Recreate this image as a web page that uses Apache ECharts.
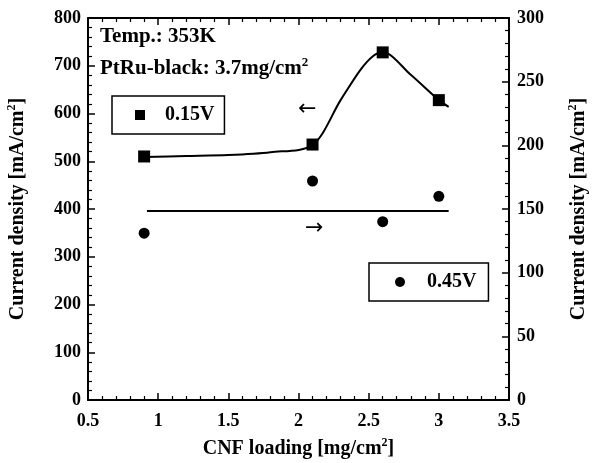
<!DOCTYPE html>
<html>
<head>
<meta charset="utf-8">
<script src="https://cdn.jsdelivr.net/npm/echarts@6/dist/echarts.min.js"></script>
<style>html,body{margin:0;padding:0;background:#fff}#c{width:595px;height:463px}</style>
</head>
<body>
<div id="c"></div>
<script>
// CNF loading [mg/cm2]
var cnfLoading = [0.9, 2.1, 2.6, 3.0];
// Current density at 0.15 V (left axis, mA/cm2)
var cd015 = [510, 535, 728, 628];
// Current density at 0.45 V (right axis, mA/cm2)
var cd045 = [131, 172, 140, 160];
// fitted curve through 0.15 V data
var fitX = [0.9, 1.2, 1.5, 1.8, 2.1, 2.3, 2.44, 2.53, 2.6, 2.8, 3.0, 3.07];
var fitY = [509, 511, 513, 519, 534, 628, 691, 720, 729, 681, 628, 614];
// average line for 0.45 V (right axis)
var avgX = [0.92, 3.07];
var avgY = [148.5, 148.5];
// axis ticks
var xTicks = {min: 0.5, max: 3.5, interval: 0.5};
var yLeftTicks = {min: 0, max: 800, interval: 100};
var yRightTicks = {min: 0, max: 300, interval: 50};

var FONT = 'Liberation Serif';
var chart = echarts.init(document.getElementById('c'), null, {renderer: 'canvas'});

function zip(a, b) { return a.map(function (v, i) { return [v, b[i]]; }); }

var axisCommon = {
  axisLine: {show: true, onZero: false, lineStyle: {color: '#000', width: 2}},
  axisTick: {show: true, inside: true, length: 7, lineStyle: {color: '#000', width: 1.5}},
  minorTick: {show: true, splitNumber: 5, length: 4, lineStyle: {color: '#000', width: 1.2}},
  splitLine: {show: false},
  axisLabel: {color: '#000', fontFamily: FONT, fontWeight: 'bold', fontSize: 18}
};
var nameStyle = {
  color: '#000', fontFamily: FONT, fontWeight: 'bold', fontSize: 20,
  rich: {sup: {fontFamily: FONT, fontWeight: 'bold', fontSize: 12, color: '#000', padding: [0, 0, 12, 0]}}
};

var option = {
  backgroundColor: '#fff',
  animation: false,
  grid: {left: 88, right: 86, top: 18, bottom: 63, containLabel: false, outerBoundsMode: 'none'},
  xAxis: [
    Object.assign({}, axisCommon, {
      type: 'value', position: 'bottom', min: xTicks.min, max: xTicks.max, interval: xTicks.interval,
      axisLabel: Object.assign({}, axisCommon.axisLabel, {margin: 12}),
      name: 'CNF loading [mg/cm{sup|2}]', nameLocation: 'middle', nameGap: 37, nameTextStyle: nameStyle
    }),
    Object.assign({}, axisCommon, {
      type: 'value', position: 'top', min: xTicks.min, max: xTicks.max, interval: xTicks.interval,
      axisLabel: {show: false}
    })
  ],
  yAxis: [
    Object.assign({}, axisCommon, {
      type: 'value', position: 'left', min: yLeftTicks.min, max: yLeftTicks.max, interval: yLeftTicks.interval,
      axisLabel: Object.assign({}, axisCommon.axisLabel, {margin: 7}),
      name: 'Current density [mA/cm{sup|2}]', nameLocation: 'middle', nameRotate: 90, nameGap: 58, nameTextStyle: nameStyle
    }),
    Object.assign({}, axisCommon, {
      type: 'value', position: 'right', min: yRightTicks.min, max: yRightTicks.max, interval: yRightTicks.interval,
      axisLabel: Object.assign({}, axisCommon.axisLabel, {margin: 8}),
      name: 'Current density [mA/cm{sup|2}]', nameLocation: 'middle', nameRotate: 90, nameGap: 58, nameTextStyle: nameStyle
    })
  ],
  legend: [
    {
      data: ['0.15V'], left: 112, top: 96, orient: 'horizontal',
      borderColor: '#000', borderWidth: 1.5, borderRadius: 0,
      padding: [9, 10, 9, 23], icon: 'rect', itemWidth: 10, itemHeight: 10,
      textStyle: {color: '#000', fontFamily: FONT, fontWeight: 'bold', fontSize: 20, padding: [0, 0, 0, 15]},
      selectedMode: false
    },
    {
      data: ['0.45V'], left: 369, top: 263, orient: 'horizontal',
      borderColor: '#000', borderWidth: 1.5, borderRadius: 0,
      padding: [9, 12, 9, 26], icon: 'circle', itemWidth: 10, itemHeight: 10,
      textStyle: {color: '#000', fontFamily: FONT, fontWeight: 'bold', fontSize: 20, padding: [0, 0, 0, 17]},
      selectedMode: false
    }
  ],
  graphic: [
    {type: 'text', left: 100, top: 26, style: {text: 'Temp.: 353K', fill: '#000', font: 'bold 21px "Liberation Serif"'}},
    {type: 'text', left: 100, top: 56, style: {
      text: 'PtRu-black: 3.7mg/cm{sup|2}', fill: '#000', font: 'bold 21px "Liberation Serif"',
      rich: {sup: {fontFamily: FONT, fontWeight: 'bold', fontSize: 13, fill: '#000', padding: [0, 0, 12, 0]}}
    }},
    {type: 'text', left: 298, top: 98, style: {text: '\u2190', fill: '#000', font: '22px "DejaVu Sans"'}},
    {type: 'text', left: 305, top: 217, style: {text: '\u2192', fill: '#000', font: '22px "DejaVu Sans"'}}
  ],
  series: [
    {
      name: 'fit', type: 'line', xAxisIndex: 0, yAxisIndex: 0, smooth: 0.3, showSymbol: false, symbol: 'none',
      data: zip(fitX, fitY), lineStyle: {color: '#000', width: 2}, silent: true, z: 2
    },
    {
      name: 'avg', type: 'line', xAxisIndex: 0, yAxisIndex: 1, showSymbol: false, symbol: 'none',
      data: zip(avgX, avgY), lineStyle: {color: '#000', width: 2}, silent: true, z: 2
    },
    {
      name: '0.15V', type: 'scatter', xAxisIndex: 0, yAxisIndex: 0, symbol: 'rect', symbolSize: 12,
      itemStyle: {color: '#000', opacity: 1}, data: zip(cnfLoading, cd015), z: 3
    },
    {
      name: '0.45V', type: 'scatter', xAxisIndex: 0, yAxisIndex: 1, symbol: 'circle', symbolSize: 11,
      itemStyle: {color: '#000', opacity: 1}, data: zip(cnfLoading, cd045), z: 3
    }
  ]
};
chart.setOption(option);
</script>
</body>
</html>
